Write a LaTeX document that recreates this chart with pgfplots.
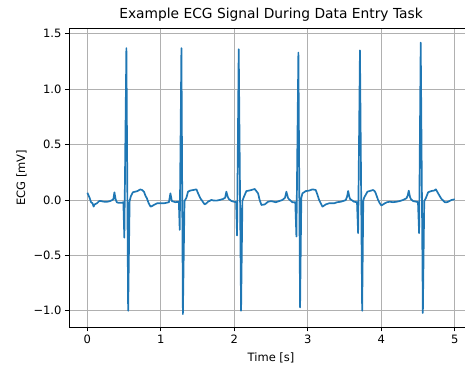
\documentclass[border=0pt]{standalone}
\usepackage{fontspec}
\setmainfont{DejaVu Sans}
\usepackage{pgfplots}
\pgfplotsset{compat=1.18}
\definecolor{mplblue}{HTML}{1F77B4}
\definecolor{mplgrid}{HTML}{B0B0B0}
\begin{document}
\begin{tikzpicture}
\begin{axis}[
  at={(0pt,0pt)}, anchor=south west,
  scale only axis,
  width=404.1pt, height=299.3pt,
  xmin=-0.25, xmax=5.25,
  ymin=-1.149, ymax=1.552,
  xtick={0,1,2,3,4,5},
  xticklabels={0,1,2,3,4,5},
  ytick={-1,-0.5,0,0.5,1,1.5},
  yticklabels={−1.0,−0.5,0.0,0.5,1.0,1.5},
  tick pos=left,
  tick align=outside,
  major tick length=4pt,
  tick style={black, line width=0.9pt},
  axis line style={black, line width=0.9pt},
  grid=major,
  major grid style={mplgrid, line width=0.9pt},
  tick label style={font=\fontsize{11.5}{13.8}\selectfont},
  xlabel={Time [s]},
  ylabel={ECG [mV]},
  label style={font=\fontsize{11.5}{13.8}\selectfont},
  xlabel style={yshift=-2pt},
  title={Example ECG Signal During Data Entry Task},
  title style={font=\fontsize{13.8}{16.5}\selectfont, yshift=-3pt},
  clip=true,
]
\addplot[mplblue, line width=1.7pt, line join=round] coordinates {
(0.000,0.065) (0.03,0.02) (0.05,-0.02) (0.07,-0.03) (0.085,-0.06) (0.10,-0.04)
(0.13,-0.03) (0.16,-0.01) (0.19,-0.01) (0.22,-0.015) (0.27,-0.016) (0.31,-0.01)
(0.34,0.0) (0.355,0.01) (0.368,0.069) (0.385,0.005) (0.40,-0.02) (0.42,-0.025)
(0.47,-0.025) (0.49,-0.02) (0.503,-0.34) (0.531,1.37) (0.555,-1.0) (0.575,-0.01)
(0.59,0.03) (0.62,0.07) (0.65,0.075) (0.68,0.08) (0.72,0.095) (0.745,0.09)
(0.77,0.075) (0.79,0.04) (0.81,0.015) (0.835,-0.03) (0.86,-0.06) (0.88,-0.055)
(0.905,-0.045) (0.95,-0.03) (1.00,-0.03) (1.04,-0.03) (1.08,-0.025) (1.11,-0.02)
(1.13,0.06) (1.15,-0.01) (1.20,-0.02) (1.245,-0.016) (1.257,-0.27) (1.28,1.37)
(1.30,-1.03) (1.322,-0.01) (1.348,0.02) (1.37,0.075) (1.40,0.085) (1.44,0.09)
(1.484,0.096) (1.507,0.06) (1.538,0.015) (1.56,-0.005) (1.575,-0.02) (1.597,-0.04)
(1.62,-0.03) (1.643,-0.015) (1.688,0.0) (1.72,-0.005) (1.756,-0.006) (1.80,0.0)
(1.847,0.009) (1.875,0.02) (1.892,0.075) (1.91,0.03) (1.924,0.01) (1.96,-0.009)
(1.997,-0.016) (2.025,-0.02) (2.037,-0.32) (2.06,1.36) (2.092,-1.0) (2.11,-0.01)
(2.125,0.02) (2.164,0.08) (2.20,0.085) (2.232,0.09) (2.277,0.099) (2.30,0.08)
(2.323,0.06) (2.345,0.0) (2.369,-0.045) (2.414,-0.04) (2.459,-0.016) (2.50,-0.01)
(2.564,-0.02) (2.61,-0.01) (2.654,0.0) (2.69,0.02) (2.709,0.075) (2.73,0.02)
(2.745,0.006) (2.79,-0.02) (2.83,-0.02) (2.845,-0.33) (2.872,1.33) (2.895,-0.97)
(2.912,0.02) (2.927,0.06) (2.972,0.08) (3.02,0.085) (3.063,0.096) (3.108,0.09)
(3.13,0.05) (3.154,0.0) (3.2,-0.06) (3.245,-0.04) (3.29,-0.03) (3.358,-0.03)
(3.40,-0.02) (3.449,-0.016) (3.50,-0.005) (3.517,0.0) (3.535,0.03) (3.549,0.081)
(3.565,0.03) (3.576,0.009) (3.63,-0.016) (3.67,-0.02) (3.685,-0.30) (3.71,1.35)
(3.74,-1.0) (3.755,-0.01) (3.766,0.02) (3.812,0.075) (3.843,0.081) (3.889,0.09)
(3.91,0.08) (3.925,0.06) (3.957,0.0) (3.98,-0.03) (4.002,-0.05) (4.048,-0.03)
(4.08,-0.02) (4.116,-0.016) (4.16,-0.02) (4.207,-0.016) (4.25,-0.01) (4.297,0.0)
(4.343,0.015) (4.36,0.04) (4.374,0.084) (4.39,0.03) (4.402,0.009) (4.433,-0.01)
(4.479,-0.016) (4.50,-0.02) (4.515,-0.30) (4.537,1.42) (4.566,-1.02) (4.585,-0.01)
(4.606,0.015) (4.638,0.07) (4.684,0.081) (4.72,0.085) (4.743,0.096) (4.774,0.06)
(4.80,0.03) (4.82,0.009) (4.865,-0.02) (4.89,-0.02) (4.91,-0.016) (4.956,0.0)
(5.0,0.006)
};
\end{axis}
\pgfresetboundingbox
\useasboundingbox (-69pt,-36.7pt) rectangle (396pt,327.3pt);
\end{tikzpicture}
\end{document}
